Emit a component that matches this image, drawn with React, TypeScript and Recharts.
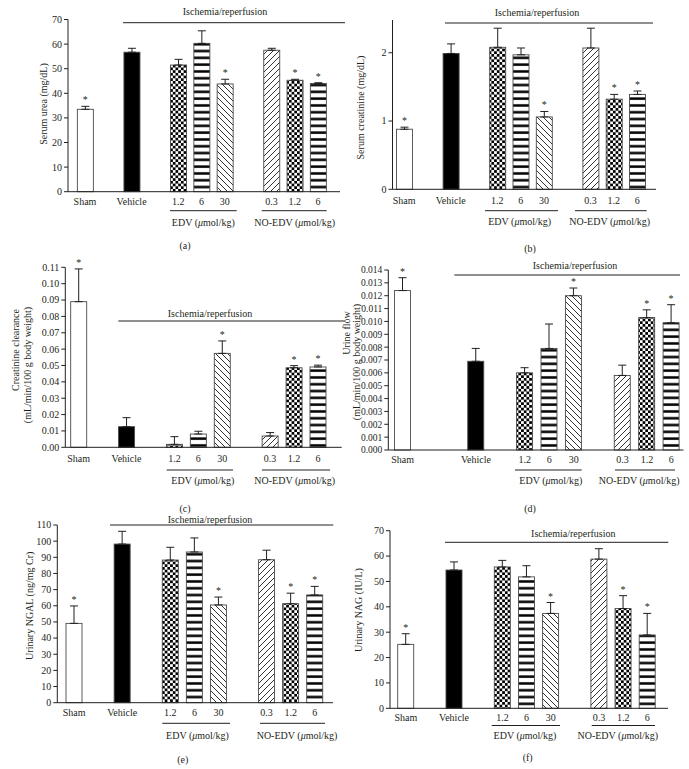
import React from 'react';
import { BarChart, Bar, XAxis, YAxis, ErrorBar, Cell } from 'recharts';

const FONT = "'Liberation Serif', 'DejaVu Serif Condensed', 'DejaVu Serif', serif";
const FS = 10;
const INK = '#231f20';
const W = 689;
const H = 769;

// ---------- data ----------
const groupLabels = ['Sham', 'Vehicle', '1.2', '6', '30', '0.3', '1.2', '6'];
const significant = [true, false, false, false, true, false, true, true];

const ureaMean = [33.5, 56.7, 51.5, 60.3, 43.8, 57.5, 45.3, 44.0];
const ureaSem = [1.2, 1.6, 2.3, 5.1, 1.9, 0.8, 0.4, 0.3];

const creatMean = [0.88, 1.99, 2.08, 1.97, 1.06, 2.07, 1.32, 1.39];
const creatSem = [0.03, 0.14, 0.28, 0.1, 0.08, 0.29, 0.07, 0.05];

const clearMean = [0.089, 0.0126, 0.0018, 0.0081, 0.0574, 0.0069, 0.0486, 0.0491];
const clearSem = [0.02, 0.0055, 0.0047, 0.0017, 0.0076, 0.0021, 0.0013, 0.0011];

const flowMean = [0.0124, 0.0069, 0.006, 0.0079, 0.012, 0.0058, 0.0103, 0.0099];
const flowSem = [0.001, 0.001, 0.0004, 0.0019, 0.0006, 0.0008, 0.0006, 0.0014];

const ngalMean = [49.1, 98.2, 88.3, 93.3, 60.5, 88.5, 61.3, 66.7];
const ngalSem = [10.8, 7.9, 7.9, 8.7, 4.9, 5.9, 6.5, 5.3];

const nagMean = [25.2, 54.5, 55.7, 51.8, 37.4, 58.8, 39.3, 28.9];
const nagSem = [4.2, 3.2, 2.6, 4.4, 4.3, 4.1, 5.1, 8.5];

const ticksA = [0, 10, 20, 30, 40, 50, 60, 70];
const ticksB = [0, 1, 2];
const ticksC = [0, 0.01, 0.02, 0.03, 0.04, 0.05, 0.06, 0.07, 0.08, 0.09, 0.1, 0.11];
const ticksD = [0, 0.001, 0.002, 0.003, 0.004, 0.005, 0.006, 0.007, 0.008, 0.009, 0.01, 0.011, 0.012, 0.013, 0.014];
const ticksE = [0, 10, 20, 30, 40, 50, 60, 70, 80, 90, 100, 110];
const ticksF = [0, 10, 20, 30, 40, 50, 60, 70];

// slot layout: index into groups, -1 = empty gap slot
const slotsStd = [0, -1, 1, -1, 2, 3, 4, -1, 5, 6, 7];
const slotsWide = [0, -1, -1, 1, -1, 2, 3, 4, -1, 5, 6, 7];

const groupFills = [
  '#ffffff',
  '#000000',
  'url(#pat-check)',
  'url(#pat-hstripe)',
  'url(#pat-bdiag)',
  'url(#pat-fdiag)',
  'url(#pat-check)',
  'url(#pat-hstripe)',
];

type Cfg = {
  id: string;
  means: number[];
  sems: number[];
  slots: number[];
  yMax: number;
  yTicks: number[];
  digits: number;
  yTickFs: number;
  plotLeft: number;
  plotRight: number;
  plotTop: number;
  plotBottom: number;
  bandStart: number;
  slotW: number;
  tickDy: number;
  yLabel: string[];
  yLabelX: number[];
  yLabelY: number[];
  isch: { x1: number; x2: number; y: number; tx: number; ty: number };
  edv: [number, number];
  noedv: [number, number];
  bracketY: number;
  edvTx: number;
  noTx: number;
  bracketTy: number;
  letter: string;
  letterX: number;
  letterY: number;
};

const panels: Cfg[] = [
  {
    id: 'a', means: ureaMean, sems: ureaSem, slots: slotsStd, yMax: 70, yTicks: ticksA, digits: 0, yTickFs: 10,
    plotLeft: 68, plotRight: 340, plotTop: 19.5, plotBottom: 191.7, bandStart: 73.35, slotW: 23.3, tickDy: 12.9,
    yLabel: ['Serum urea (mg/dL)'], yLabelX: [43], yLabelY: [104],
    isch: { x1: 123, x2: 345, y: 22.7, tx: 225, ty: 11.7 },
    edv: [170, 236.7], noedv: [261.7, 326.7], bracketY: 210.7, edvTx: 203.3, noTx: 294.7, bracketTy: 222,
    letter: '(a)', letterX: 185, letterY: 245,
  },
  {
    id: 'b', means: creatMean, sems: creatSem, slots: slotsStd, yMax: 2.48, yTicks: ticksB, digits: 0, yTickFs: 10,
    plotLeft: 392.5, plotRight: 656, plotTop: 20, plotBottom: 189.3, bandStart: 392.5, slotW: 23.3, tickDy: 14.3,
    yLabel: ['Serum creatinine (mg/dL)'], yLabelX: [360], yLabelY: [107.5],
    isch: { x1: 445, x2: 653, y: 23, tx: 537, ty: 12 },
    edv: [485, 558], noedv: [575, 646.7], bracketY: 210.7, edvTx: 519.7, noTx: 609.7, bracketTy: 221.7,
    letter: '(b)', letterX: 530, letterY: 248.3,
  },
  {
    id: 'c', means: clearMean, sems: clearSem, slots: slotsStd, yMax: 0.11, yTicks: ticksC, digits: 2, yTickFs: 10,
    plotLeft: 65.3, plotRight: 341.7, plotTop: 267.3, plotBottom: 447.3, bandStart: 66.7, slotW: 23.93, tickDy: 14.5,
    yLabel: ['Creatinine clearance', '(mL/min/100 g body weight)'], yLabelX: [15, 27], yLabelY: [350, 365],
    isch: { x1: 118.3, x2: 345, y: 321, tx: 210, ty: 313.3 },
    edv: [166.7, 233], noedv: [262, 330], bracketY: 470, edvTx: 202.8, noTx: 294.7, bracketTy: 480,
    letter: '(c)', letterX: 185, letterY: 508.3,
  },
  {
    id: 'd', means: flowMean, sems: flowSem, slots: slotsWide, yMax: 0.014, yTicks: ticksD, digits: 3, yTickFs: 9.5,
    plotLeft: 388.3, plotRight: 683.5, plotTop: 270, plotBottom: 450, bandStart: 390.5, slotW: 24.42, tickDy: 12.9,
    yLabel: ['Urine flow', '(mL/min/100 g body weight)'], yLabelX: [346.5, 356.5], yLabelY: [333, 362],
    isch: { x1: 454.3, x2: 680, y: 275, tx: 575, ty: 265.7 },
    edv: [515, 581.7], noedv: [615, 675], bracketY: 470, edvTx: 550.8, noTx: 639.2, bracketTy: 480,
    letter: '(d)', letterX: 530, letterY: 508.3,
  },
  {
    id: 'e', means: ngalMean, sems: ngalSem, slots: slotsStd, yMax: 110, yTicks: ticksE, digits: 0, yTickFs: 10,
    plotLeft: 57.3, plotRight: 333, plotTop: 525, plotBottom: 702.7, bandStart: 62, slotW: 24.07, tickDy: 13.6,
    yLabel: ['Urinary NGAL (ng/mg Cr)'], yLabelX: [30], yLabelY: [605.8],
    isch: { x1: 110, x2: 333.3, y: 525, tx: 210, ty: 519.3 },
    edv: [162.3, 230], noedv: [260, 325], bracketY: 723.3, edvTx: 197.5, noTx: 297, bracketTy: 735.7,
    letter: '(e)', letterX: 182.7, letterY: 759.3,
  },
  {
    id: 'f', means: nagMean, sems: nagSem, slots: slotsStd, yMax: 70, yTicks: ticksF, digits: 0, yTickFs: 10,
    plotLeft: 390, plotRight: 668, plotTop: 530.7, plotBottom: 708.3, bandStart: 393.7, slotW: 24.15, tickDy: 12.2,
    yLabel: ['Urinary NAG (IU/L)'], yLabelX: [358.3], yLabelY: [610],
    isch: { x1: 445, x2: 668.3, y: 542.3, tx: 573.3, ty: 533.3 },
    edv: [491.7, 560], noedv: [591.7, 655], bracketY: 725.5, edvTx: 525, noTx: 617.8, bracketTy: 735.5,
    letter: '(f)', letterX: 527.7, letterY: 757,
  },
];

const textStyle = { fontFamily: FONT, fontSize: FS };

// ---------- components ----------
const BarShape = (props: any) => {
  const { x, y, width, height, fill, payload } = props;
  if (!payload || payload.value == null || !isFinite(height)) return <g />;
  const errPx = payload.value ? (payload.sem * height) / payload.value : 0;
  return (
    <g>
      <rect x={x} y={y} width={width} height={height} fill={fill} stroke="#4a4a4a" strokeWidth={0.9} />
      {payload.star ? (
        <text x={x + width / 2} y={y - errPx - 3} textAnchor="middle" style={textStyle} fill={INK}>
          *
        </text>
      ) : null}
    </g>
  );
};

function Panel({ cfg }: { cfg: Cfg }) {
  const rows = cfg.slots.map((g, i) =>
    g < 0
      ? { key: `gap${i}`, label: '', value: null, sem: 0, errRange: undefined, star: false }
      : {
          key: `g${i}`,
          label: groupLabels[g],
          value: cfg.means[g],
          sem: cfg.sems[g],
          errRange: [0, cfg.sems[g]],
          star: significant[g],
        }
  );
  const yAxisW = 30;
  const xAxisH = 20;
  const n = cfg.slots.length;
  const padL = cfg.bandStart - cfg.plotLeft;
  const padR = cfg.plotRight - (cfg.bandStart + n * cfg.slotW);
  const XTick = (p: any) => (
    <text x={p.x} y={p.y + cfg.tickDy} textAnchor="middle" style={textStyle} fill={INK}>
      {p.payload.value}
    </text>
  );
  const YTick = (p: any) => (
    <text
      x={p.x}
      y={p.y + 3.4}
      textAnchor="end"
      style={{ fontFamily: FONT, fontSize: cfg.yTickFs }}
      fill={INK}
    >
      {Number(p.payload.value).toFixed(cfg.digits)}
    </text>
  );
  return (
    <div style={{ position: 'absolute', left: 0, top: 0, width: W, height: H }}>
      <BarChart
        width={W}
        height={H}
        data={rows}
        margin={{
          left: cfg.plotLeft - yAxisW,
          right: W - cfg.plotRight,
          top: cfg.plotTop,
          bottom: H - cfg.plotBottom - xAxisH,
        }}
        barCategoryGap={0}
      >
        <XAxis
          dataKey="label"
          type="category"
          interval={0}
          height={xAxisH}
          tickLine={false}
          tickSize={0}
          tickMargin={0}
          padding={{ left: Math.max(0, padL), right: Math.max(0, padR) }}
          axisLine={{ stroke: INK, strokeWidth: 1 }}
          tick={XTick}
        />
        <YAxis
          type="number"
          width={yAxisW}
          domain={[0, cfg.yMax]}
          ticks={cfg.yTicks}
          interval={0}
          tickSize={4}
          tickMargin={2}
          axisLine={{ stroke: INK, strokeWidth: 1 }}
          tickLine={{ stroke: INK, strokeWidth: 1 }}
          tick={YTick}
        />
        <Bar dataKey="value" barSize={16} isAnimationActive={false} shape={BarShape}>
          {cfg.slots.map((g, i) => (
            <Cell key={`c${i}`} fill={g < 0 ? 'none' : groupFills[g]} />
          ))}
          <ErrorBar
            dataKey="errRange"
            direction="y"
            width={4}
            stroke={INK}
            strokeWidth={1}
            isAnimationActive={false}
          />
        </Bar>
      </BarChart>
    </div>
  );
}

const T = ({ x, cy, children }: any) => (
  <text x={x} y={cy + 3.5} textAnchor="middle" style={textStyle} fill={INK}>
    {children}
  </text>
);

function Annotations({ cfg }: { cfg: Cfg }) {
  return (
    <g>
      {cfg.yLabel.map((s, i) => (
        <text
          key={i}
          x={cfg.yLabelX[i]}
          y={cfg.yLabelY[i]}
          transform={`rotate(-90, ${cfg.yLabelX[i]}, ${cfg.yLabelY[i]})`}
          dy={3.5}
          textAnchor="middle"
          style={textStyle}
          fill={INK}
        >
          {s}
        </text>
      ))}
      <line x1={cfg.isch.x1} x2={cfg.isch.x2} y1={cfg.isch.y} y2={cfg.isch.y} stroke={INK} strokeWidth={1} />
      <T x={cfg.isch.tx} cy={cfg.isch.ty}>Ischemia/reperfusion</T>
      <line x1={cfg.edv[0]} x2={cfg.edv[1]} y1={cfg.bracketY} y2={cfg.bracketY} stroke={INK} strokeWidth={1} />
      <line x1={cfg.noedv[0]} x2={cfg.noedv[1]} y1={cfg.bracketY} y2={cfg.bracketY} stroke={INK} strokeWidth={1} />
      <T x={cfg.edvTx} cy={cfg.bracketTy}>
        EDV (<tspan fontStyle="italic">μ</tspan>mol/kg)
      </T>
      <T x={cfg.noTx} cy={cfg.bracketTy}>
        NO-EDV (<tspan fontStyle="italic">μ</tspan>mol/kg)
      </T>
      <T x={cfg.letterX} cy={cfg.letterY}>{cfg.letter}</T>
    </g>
  );
}

export default function App() {
  return (
    <div
      style={{
        position: 'absolute',
        left: 0,
        top: 0,
        width: W,
        height: H,
        background: '#fff',
        overflow: 'hidden',
        fontFamily: FONT,
      }}
    >
      <svg width={0} height={0} style={{ position: 'absolute' }}>
        <defs>
          <pattern id="pat-check" patternUnits="userSpaceOnUse" width={5.4} height={5.4}>
            <rect x={0} y={0} width={5.4} height={5.4} fill="#fff" />
            <rect x={0} y={0} width={2.7} height={2.7} fill="#000" />
            <rect x={2.7} y={2.7} width={2.7} height={2.7} fill="#000" />
          </pattern>
          <pattern id="pat-hstripe" patternUnits="userSpaceOnUse" width={6.8} height={6.8}>
            <rect x={0} y={0} width={6.8} height={6.8} fill="#fff" />
            <rect x={0} y={2.2} width={6.8} height={2.5} fill="#000" />
          </pattern>
          <pattern id="pat-bdiag" patternUnits="userSpaceOnUse" width={6} height={6}>
            <rect x={0} y={0} width={6} height={6} fill="#fff" />
            <path d="M-1,-1 L7,7 M5,-1 L7,1 M-1,5 L1,7" stroke="#000" strokeWidth={0.8} />
          </pattern>
          <pattern id="pat-fdiag" patternUnits="userSpaceOnUse" width={6} height={6}>
            <rect x={0} y={0} width={6} height={6} fill="#fff" />
            <path d="M-1,7 L7,-1 M-1,1 L1,-1 M5,7 L7,5" stroke="#000" strokeWidth={0.8} />
          </pattern>
        </defs>
      </svg>
      {panels.map((cfg) => (
        <Panel key={cfg.id} cfg={cfg} />
      ))}
      <svg width={W} height={H} style={{ position: 'absolute', left: 0, top: 0, pointerEvents: 'none' }}>
        {panels.map((cfg) => (
          <Annotations key={cfg.id} cfg={cfg} />
        ))}
      </svg>
    </div>
  );
}
